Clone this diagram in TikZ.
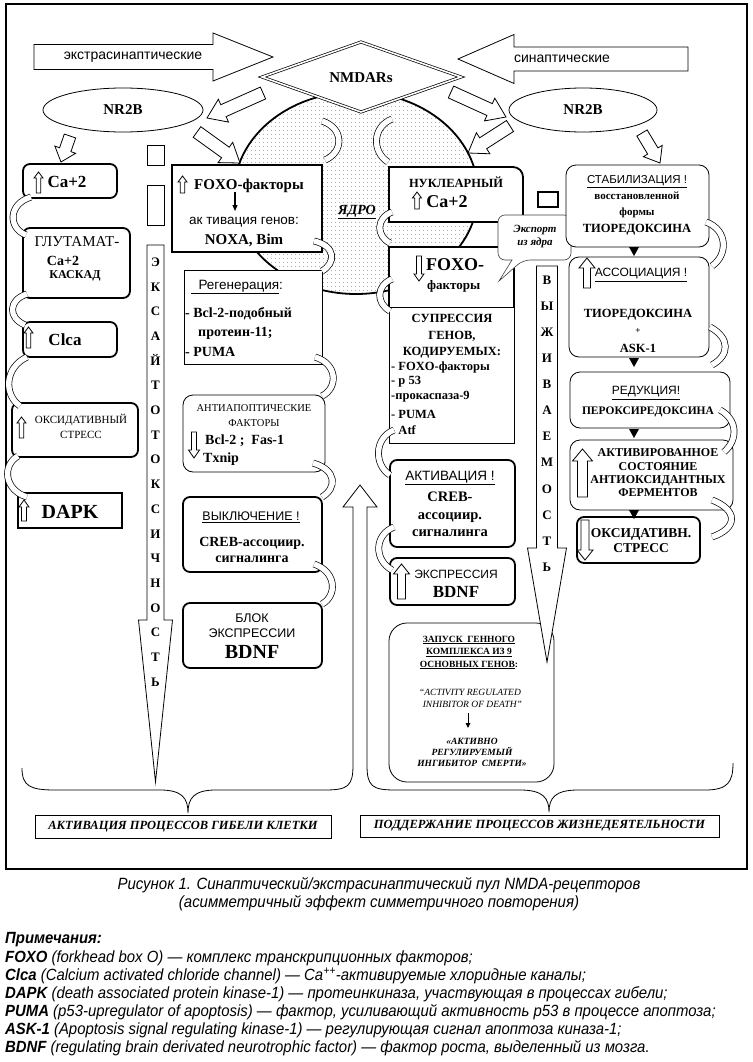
\documentclass[tikz,border=0pt]{standalone}
\usepackage{fontspec}
\setmainfont{Liberation Serif}
\setsansfont{Liberation Sans}
\newfontfamily\capf[FakeStretch=0.92]{Liberation Sans}
\usetikzlibrary{shapes.geometric, patterns.meta, decorations.markings, arrows.meta}

\newcommand\fs[2]{\fontsize{#1}{#2}\selectfont}
% tail x, tail y, tip x, tip y, shaft half, head half, head length, style
\newcommand\blockarrow[8]{%
  \pgfmathsetmacro\baL{veclen((#3)-(#1),(#4)-(#2))}%
  \pgfmathsetmacro\baA{atan2(-((#4)-(#2)),(#3)-(#1))}%
  \pgfmathsetmacro\baB{\baL-(#7)}%
  \begin{scope}[shift={(#1,#2)}, rotate=\baA]
    \draw[#8] (0,-#5) -- (\baB,-#5) -- (\baB,-#6) -- (\baL,0) -- (\baB,#6) -- (\baB,#5) -- (0,#5) -- cycle;
  \end{scope}}
\newcommand\mybox[6]{\node[#6, minimum width={(#4)-(#2)}, minimum height={(#5)-(#3)}] (#1) at ({((#2)+(#4))/2},{((#3)+(#5))/2}) {};}

\tikzset{
 tb/.style={draw, line width=1.8pt, fill=white, rounded corners=7pt, inner sep=0pt},
 tn/.style={draw, line width=0.8pt, fill=white, rounded corners=10pt, inner sep=0pt},
 tbs/.style={draw, line width=1.8pt, fill=white, inner sep=0pt},
 tns/.style={draw, line width=0.8pt, fill=white, inner sep=0pt},
 tx/.style={inner sep=0pt, align=center},
 hol/.style={draw=black, fill=white, line width=0.8pt},
 carrow/.style={line width=5.4pt, white, preaction={draw=black, line width=6.8pt},
   postaction={decorate}, decoration={markings, mark=at position 1 with
   {\filldraw[fill=white, draw=black, line width=0.7pt] (0,-2.7) -- (0,-7.5) -- (9.5,0) -- (0,7.5) -- (0,2.7);}}},
 note/.style={anchor=west, inner sep=0pt, font=\capf\itshape\fs{16.2}{16.2}},
}

\begin{document}
\begin{tikzpicture}[x=1pt,y=-1pt]
\useasboundingbox (0,0) rectangle (752,1062);
\fill[white] (0,0) rectangle (752,1062);
\draw[line width=1.3pt] (6,4) rectangle (747,869);

% nucleus
\fill[white] (356,193) ellipse [x radius=122, y radius=101];
\fill[pattern={Dots[distance=4pt,radius=0.55pt]}, pattern color=black!55] (356,193) ellipse [x radius=122, y radius=101];
\draw[line width=1.8pt] (356,193) ellipse [x radius=122, y radius=101];
\node[tx, font=\bfseries\itshape\fs{14}{14}] (yadro) at (357,212) {\underline{ЯДРО}};

% NMDARs diamond
\draw[double, double distance=1.6pt, line width=0.7pt, fill=white] (262,77) -- (361,42) -- (461,77) -- (361,112) -- cycle;
\node[tx, font=\bfseries\fs{15}{15}] (nmda) at (361,78) {NMDARs};

% big arrows
\blockarrow{34}{57}{273}{57}{12.5}{24}{60}{hol}
\node[tx, font=\sffamily\fs{14}{14}] (extra) at (133,57) {экстрасинаптические};
\blockarrow{688}{59}{458}{59}{12}{24.5}{56}{hol}
\node[tx, font=\sffamily\fs{14}{14}] (syn) at (562,59) {синаптические};

% NR2B
\node[draw, ellipse, line width=0.8pt, fill=white, minimum width=160, minimum height=44, inner sep=0pt, font=\bfseries\fs{15}{15}] (nr2bL) at (123,110) {NR2B};
\node[draw, ellipse, line width=0.8pt, fill=white, minimum width=148, minimum height=44, inner sep=0pt, font=\bfseries\fs{15}{15}] (nr2bR) at (583,110) {NR2B};

% block arrows
\blockarrow{263}{93}{207}{118}{6.5}{12.5}{18}{hol}
\blockarrow{197}{132}{240}{163}{6.5}{12.5}{18}{hol}
\blockarrow{70}{136}{61}{162}{6}{11}{13}{hol}
\blockarrow{451}{92}{506}{117}{6.5}{12.5}{18}{hol}
\blockarrow{510}{126}{468}{153}{6.5}{12.5}{18}{hol}
\blockarrow{642}{133}{660}{163}{6}{11}{14}{hol}

% small squares
\mybox{sq1}{147}{145}{164}{165}{tns}
\mybox{sq2}{147}{185}{164}{225}{tns}
\mybox{sq3}{538}{192}{558}{207}{tbs}

% left column
\mybox{ca1}{23}{164}{117}{198}{tb}
\mybox{glu}{23}{228}{130}{298}{tb}
\mybox{clca}{23}{322}{117}{357}{tb}
\mybox{oks}{12}{403}{138}{457}{tb}
\mybox{dapk}{18}{493}{122}{528}{tbs}
\node[tx, font=\bfseries\fs{17}{17}] (t-ca1) at (67,182) {Ca+2};
\node[tx, font=\fs{15}{15}] (t-glu1) at (77,242) {ГЛУТАМАТ-};
\node[tx, font=\bfseries\fs{14}{14}] (t-glu2) at (63,261) {Ca+2};
\node[tx, font=\bfseries\fs{12}{12}] (t-glu3) at (75,276) {КАСКАД};
\node[tx, font=\bfseries\fs{17}{17}] (t-clca) at (65,340) {Clca};
\node[tx, font=\fs{11}{15}] (t-oks) at (81,426) {ОКСИДАТИВНЫЙ\\СТРЕСС};
\node[tx, font=\bfseries\fs{20}{20}] (t-dapk) at (70,512) {DAPK};
\blockarrow{38.5}{193}{38.5}{172}{2.2}{4.5}{6}{hol}
\blockarrow{28.5}{348}{28.5}{327}{2.2}{4.5}{6}{hol}
\blockarrow{21.5}{438}{21.5}{417}{2.2}{4.5}{6}{hol}
\blockarrow{24}{521}{24}{500}{2.5}{5}{7}{hol}

% middle-left column
\mybox{foxo1}{172}{165}{322}{252}{tbs}
\mybox{regen}{184}{270}{322}{364}{tns}
\mybox{antiap}{183}{395}{325}{472}{tn}
\mybox{off}{183}{497}{322}{572}{tb}
\mybox{blok}{183}{603}{322}{668}{tb}
\node[tx, font=\bfseries\fs{15}{15}] (t-foxo1a) at (249,186) {FOXO-факторы};
\blockarrow{182.5}{193}{182.5}{176}{2.2}{4.5}{6}{hol}
\node[tx, font=\sffamily\fs{13.5}{13.5}] (t-foxo1b) at (244,222) {ак тивация генов:};
\node[tx, font=\bfseries\fs{15}{15}] (t-foxo1c) at (244,240) {NOXA, Bim};
\draw[line width=1.1pt, -{Triangle[length=6pt,width=5pt]}] (235,192) -- (235,211);
\node[tx, font=\sffamily\fs{13.5}{13.5}] (t-reg1) at (237,287) {\underline{\ \ Регенерация}:};
\node[tx, anchor=west, font=\bfseries\fs{14}{14}] (t-reg2) at (185,314) {- Bcl-2-подобный};
\node[tx, anchor=west, font=\bfseries\fs{14}{14}] (t-reg3) at (198,333) {протеин-11;};
\node[tx, anchor=west, font=\bfseries\fs{14}{14}] (t-reg4) at (185,352) {- PUMA};
\node[tx, font=\fs{10.5}{15}] (t-anti1) at (254,415.5) {АНТИАПОПТИЧЕСКИЕ\\ФАКТОРЫ};
\blockarrow{194}{432}{194}{458}{2.5}{5.5}{8}{hol}
\node[tx, anchor=west, font=\bfseries\fs{14}{14}] (t-anti2) at (205,441) {Bcl-2 ;\ \ Fas-1};
\node[tx, anchor=west, font=\bfseries\fs{14}{14}] (t-anti3) at (203,459) {Txnip};
\node[tx, font=\sffamily\fs{12.5}{12.5}] (t-off1) at (251,517) {\underline{ВЫКЛЮЧЕНИЕ !}};
\node[tx, font=\bfseries\fs{14}{16}] (t-off2) at (252,550) {CREB-ассоциир.\\сигналинга};
\node[tx, font=\sffamily\fs{12.5}{15}] (t-blok1) at (252,625.5) {БЛОК\\ЭКСПРЕССИИ};
\node[tx, font=\bfseries\fs{20}{20}] (t-blok2) at (252,652) {BDNF};

% middle-right column
\draw[line width=1.8pt, fill=white] (389,222) -- (389,167) -- (513,167) to[out=0,in=90] (523,177) -- (523,222) -- cycle;
\node[inner sep=0pt, minimum width=134, minimum height=55] (nucl) at (456,194.5) {};
\node[tx, font=\bfseries\fs{12.5}{12.5}] (t-nucl1) at (456,182) {НУКЛЕАРНЫЙ};
\blockarrow{417}{209}{417}{192}{2.2}{4.5}{6}{hol}
\node[tx, font=\bfseries\fs{18}{18}] (t-nucl2) at (447,202) {Ca+2};
\mybox{supp}{389}{247}{514}{443}{tns}
\draw[line width=1.8pt] (389,307) -- (389,247) -- (506,247) to[out=0,in=90] (514,255) -- (514,307);
\draw[line width=0.8pt] (389,307) -- (514,307);
\node[tx, anchor=west, font=\bfseries\fs{18}{18}] (t-fo2a) at (426,265) {FOXO-};
\node[tx, anchor=west, font=\bfseries\fs{13}{13}] (t-fo2b) at (427,286) {факторы};
\blockarrow{419}{256}{419}{281}{2.5}{5}{7}{hol}
\node[tx, font=\bfseries\fs{12.5}{16.5}] (t-sup1) at (452,336.5) {СУПРЕССИЯ\\ГЕНОВ,\\КОДИРУЕМЫХ:};
\node[tx, anchor=west, font=\bfseries\fs{12.5}{12.5}] (t-sup2) at (391,367) {- FOXO-факторы};
\node[tx, anchor=west, font=\bfseries\fs{12.5}{12.5}] (t-sup3) at (391,382) {- p 53};
\node[tx, anchor=west, font=\bfseries\fs{12.5}{12.5}] (t-sup4) at (391,397) {-прокаспаза-9};
\node[tx, anchor=west, font=\bfseries\fs{12.5}{12.5}] (t-sup5) at (391,414) {- PUMA};
\node[tx, anchor=west, font=\bfseries\fs{12.5}{12.5}] (t-sup6) at (391,430) {- Atf};
\mybox{akt}{390}{460}{515}{547}{tb}
\node[tx, font=\sffamily\fs{13.5}{13.5}] (t-akt1) at (450,478) {\underline{АКТИВАЦИЯ !}};
\node[tx, font=\bfseries\fs{14.5}{17.5}] (t-akt2) at (450,514.5) {CREB-\\ассоциир.\\сигналинга};
\mybox{expr}{390}{558}{515}{605}{tb}
\blockarrow{401.5}{599}{401.5}{564}{4}{8}{10}{hol}
\node[tx, font=\sffamily\fs{12}{12}] (t-expr1) at (456,574) {ЭКСПРЕССИЯ};
\node[tx, font=\bfseries\fs{17}{17}] (t-expr2) at (456,592) {BDNF};

% export callout
\draw[fill=white, draw=black!75, line width=0.6pt, rounded corners=7pt] (512,260) -- (498,260) -- (498,215) -- (571,215) -- (571,260) -- (523,260) [sharp corners] -- (499,281) -- cycle;
\node[tx, font=\bfseries\itshape\fs{11}{13}] (t-exp) at (535,236.5) {Экспорт\\из ядра};

% right column
\mybox{stab}{566}{165}{709}{247}{tn}
\mybox{assoc}{569}{257}{709}{357}{tn}
\mybox{red}{570}{372}{730}{428}{tn}
\mybox{activ}{570}{440}{733}{510}{tn}
\mybox{oks2}{577}{517}{700}{563}{tb}
\fill (629,247) -- (639,247) -- (634,256) -- cycle;
\fill (629,358) -- (639,358) -- (634,367) -- cycle;
\fill (629,429) -- (639,429) -- (634,438) -- cycle;
\fill (629,510) -- (639,510) -- (634,519) -- cycle;
\node[tx, font=\sffamily\fs{11.5}{11.5}] (t-stab1) at (637,182) {\underline{СТАБИЛИЗАЦИЯ !}};
\node[tx, font=\bfseries\fs{11}{16}] (t-stab2) at (637,205) {восстановленной\\формы};
\node[tx, font=\bfseries\fs{12.5}{12.5}] (t-stab3) at (637,230) {ТИОРЕДОКСИНА};
\blockarrow{587}{288}{587}{258}{3.5}{8}{10}{hol}
\node[tx, font=\sffamily\fs{12}{12}] (t-as1) at (641,275) {\underline{АССОЦИАЦИЯ !}};
\node[tx, font=\bfseries\fs{12.5}{12.5}] (t-as2) at (638,315) {ТИОРЕДОКСИНА};
\node[tx, font=\bfseries\fs{9}{9}] (t-as3) at (638,331) {+};
\node[tx, font=\bfseries\fs{12.5}{12.5}] (t-as4) at (638,348) {ASK-1};
\node[tx, font=\sffamily\fs{12}{12}] (t-red1) at (646,393) {\underline{РЕДУКЦИЯ!}};
\node[tx, font=\bfseries\fs{11.5}{11.5}] (t-red2) at (648,412) {ПЕРОКСИРЕДОКСИНА};
\blockarrow{582.5}{497}{582.5}{449}{5}{10}{12}{hol}
\node[tx, font=\bfseries\fs{12}{13.3}] (t-act) at (658,473) {АКТИВИРОВАННОЕ\\СОСТОЯНИЕ\\АНТИОКСИДАНТНЫХ\\ФЕРМЕНТОВ};
\blockarrow{585}{520}{585}{560}{4}{8}{10}{hol}
\node[tx, font=\bfseries\fs{13.5}{15}] (t-oks2) at (641,540.5) {ОКСИДАТИВН.\\СТРЕСС};

% zapusk box
\node[draw, line width=0.8pt, fill=white, rounded corners=18pt, minimum width=165, minimum height=159, inner sep=0pt] (zap) at (471.5,702.5) {};
\node[tx, font=\bfseries\fs{9.5}{12.5}] (t-zap1) at (469,652.5) {\underline{ЗАПУСК\ \ ГЕННОГО}\\\underline{КОМПЛЕКСА ИЗ 9}\\\underline{ОСНОВНЫХ ГЕНОВ}:};
\node[tx, font=\itshape\fs{9.5}{12}] (t-zap2) at (470,698) {“ACTIVITY REGULATED\\\ \ INHIBITOR OF DEATH”};
\draw[line width=1pt, -{Triangle[length=5pt,width=4.5pt]}] (468,713) -- (468,728);
\node[tx, font=\bfseries\itshape\fs{9.5}{10.8}] (t-zap3) at (472,752.5) {«АКТИВНО\\РЕГУЛИРУЕМЫЙ\\ИНГИБИТОР\ \ СМЕРТИ»};

% vertical arrows
\blockarrow{155.5}{245}{155.5}{782}{8.5}{17}{162}{hol}
\node[tx, font=\bfseries\fs{13}{24.7}] (exc) at (155.5,472) {Э\\К\\С\\А\\Й\\Т\\О\\Т\\О\\К\\С\\И\\Ч\\Н\\О\\С\\Т\\Ь};
\blockarrow{547}{266}{547}{662}{10.5}{19.5}{114}{hol}
\node[tx, font=\bfseries\fs{13}{26.1}] (vyzh) at (547,423.5) {В\\Ы\\Ж\\И\\В\\А\\Е\\М\\О\\С\\Т\\Ь};

% curved arrows
\draw[carrow] (31,197) .. controls (8,204) and (8,228) .. (26,235);
\draw[carrow] (27,294) .. controls (8,300) and (8,318) .. (25,325);
\draw[carrow] (27,357) .. controls (4,368) and (4,395) .. (20,406);
\draw[carrow] (18,456) .. controls (2,465) and (4,490) .. (27,497);
\draw[carrow] (322,121) .. controls (344,128) and (344,152) .. (325,160);
\draw[carrow] (314,241) .. controls (336,246) and (336,263) .. (322,271);
\draw[carrow] (315,357) .. controls (338,364) and (338,388) .. (322,396);
\draw[carrow] (313,463) .. controls (337,470) and (337,488) .. (322,497);
\draw[carrow] (314,564) .. controls (337,572) and (337,596) .. (322,604);
\draw[carrow] (392,119) .. controls (372,127) and (372,152) .. (388,162);
\draw[carrow] (392,212) .. controls (376,218) and (376,236) .. (390,243);
\draw[carrow] (392,279) .. controls (376,286) and (376,303) .. (390,311);
\draw[carrow] (394,430) .. controls (374,438) and (374,465) .. (390,475);
\draw[carrow] (394,527) .. controls (374,535) and (374,560) .. (392,570);
\draw[carrow] (706,222) .. controls (728,230) and (728,255) .. (712,266);
\draw[carrow] (710,327) .. controls (730,338) and (730,355) .. (712,365);
\draw[carrow] (720,410) .. controls (738,420) and (738,440) .. (724,452);
\draw[carrow] (712,500) .. controls (738,510) and (738,528) .. (712,537);

% braces with up arrow
\draw[line width=0.8pt] (22,768) .. controls (22,786) and (30,790) .. (55,790) -- (160,790)
  .. controls (182,790) and (188,798) .. (188,813) .. controls (188,798) and (194,790) .. (216,790)
  -- (325,790) .. controls (348,790) and (353,786) .. (353,765) -- (353,507) -- (343,507) -- (360,485)
  -- (377,507) -- (367,507) -- (367,765) .. controls (367,786) and (372,790) .. (395,790) -- (520,790)
  .. controls (543,790) and (549,798) .. (549,812) .. controls (549,798) and (555,790) .. (578,790)
  -- (705,790) .. controls (728,790) and (733,782) .. (733,763);

% labels
\node[draw, line width=0.8pt, inner sep=0pt, minimum width=296, minimum height=23, font=\bfseries\itshape\fs{12.5}{12.5}] (lab1) at (183,826.5) {АКТИВАЦИЯ ПРОЦЕССОВ ГИБЕЛИ КЛЕТКИ};
\node[draw, line width=0.8pt, inner sep=0pt, minimum width=359, minimum height=22, font=\bfseries\itshape\fs{12.5}{12.5}] (lab2) at (539.5,826) {ПОДДЕРЖАНИЕ ПРОЦЕССОВ ЖИЗНЕДЕЯТЕЛЬНОСТИ};

% caption and notes
\node[tx, font=\capf\itshape\fs{16.3}{18}] (cap) at (379,894) {Рисунок 1. Синаптический/экстрасинаптический пул NMDA-рецепторов\\(асимметричный эффект симметричного повторения)};
\node[note] (n0) at (5,940) {\textbf{Примечания:}};
\node[note] (n1) at (5,958) {\textbf{FOXO} (forkhead box O) — комплекс транскрипционных факторов;};
\node[note] (n2) at (5,976) {\textbf{Clca} (Calcium activated chloride channel) — Ca\textsuperscript{++}-активируемые хлоридные каналы;};
\node[note] (n3) at (5,994) {\textbf{DAPK} (death associated protein kinase-1) — протеинкиназа, участвующая в процессах гибели;};
\node[note] (n4) at (5,1012) {\textbf{PUMA} (p53-upregulator of apoptosis) — фактор, усиливающий активность p53 в процессе апоптоза;};
\node[note] (n5) at (5,1030) {\textbf{ASK-1} (Apoptosis signal regulating kinase-1) — регулирующая сигнал апоптоза киназа-1;};
\node[note] (n6) at (5,1048) {\textbf{BDNF} (regulating brain derivated neurotrophic factor) — фактор роста, выделенный из мозга.};
\end{tikzpicture}
\end{document}
